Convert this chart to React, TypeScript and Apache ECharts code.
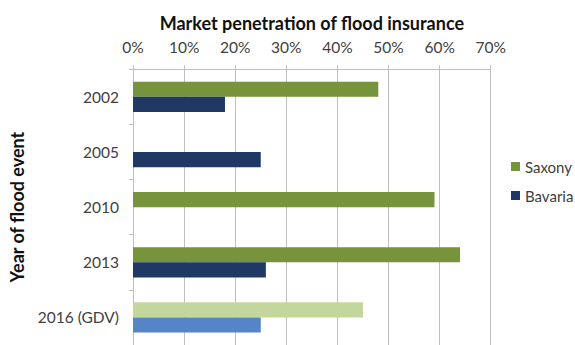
import React, { useEffect, useRef } from "react";
import * as echarts from "echarts";

const categories = ["2002", "2005", "2010", "2013", "2016 (GDV)"];
const saxony = [48, null, 59, 64, 45];
const bavaria = [18, 25, null, 26, 25];
const xTicks = [0, 10, 20, 30, 40, 50, 60, 70];

const SAX = "#77933C";
const BAV = "#1F3864";
const SAX_LIGHT = "#C3D69B";
const BAV_LIGHT = "#5585C8";
const FONT = "Lato";

export default function App() {
  const ref = useRef<HTMLDivElement>(null);
  useEffect(() => {
    const chart = echarts.init(ref.current!, null, { renderer: "svg" });
    const last = categories.length - 1;
    chart.setOption({
      animation: false,
      textStyle: { fontFamily: FONT },
      grid: { left: 129.5, top: 69.3, width: 361.2, height: 279.5, containLabel: false },
      legend: {
        orient: "vertical",
        left: 506,
        top: 154,
        icon: "rect",
        itemWidth: 9,
        itemHeight: 9,
        itemGap: 14,
        textStyle: { fontFamily: FONT, fontSize: 15, color: "#404040" },
        data: ["Saxony", "Bavaria"],
      },
      xAxis: {
        type: "value",
        position: "top",
        min: xTicks[0],
        max: xTicks[xTicks.length - 1],
        interval: 10,
        name: "Market penetration of flood insurance",
        nameLocation: "middle",
        nameGap: 37,
        nameTextStyle: { fontFamily: FONT, fontSize: 18, fontWeight: "bold", color: "#111" },
        axisLine: { show: true, lineStyle: { color: "#BFBFBF", width: 1 } },
        axisTick: { show: true, length: 4, lineStyle: { color: "#BFBFBF" } },
        axisLabel: { formatter: "{value}%", fontSize: 15.5, color: "#404040", margin: 14, fontFamily: FONT },
        splitLine: { show: true, lineStyle: { color: "#BFBFBF", width: 1 } },
      },
      yAxis: {
        type: "category",
        inverse: true,
        data: categories,
        name: "Year of flood event",
        nameLocation: "middle",
        nameGap: 107,
        nameTextStyle: { fontFamily: FONT, fontSize: 18, fontWeight: "bold", color: "#111" },
        axisLine: { show: true, lineStyle: { color: "#BFBFBF", width: 1 } },
        axisTick: { show: true, length: 4, lineStyle: { color: "#BFBFBF" } },
        axisLabel: { fontSize: 15.5, color: "#404040", margin: 14, fontFamily: FONT },
      },
      series: [
        {
          name: "Saxony",
          type: "bar",
          barGap: "0%",
          barCategoryGap: "45%",
          itemStyle: { color: SAX },
          data: saxony.map((v, i) =>
            i === last ? { value: v, itemStyle: { color: SAX_LIGHT } } : v
          ),
        },
        {
          name: "Bavaria",
          type: "bar",
          barGap: "0%",
          barCategoryGap: "45%",
          itemStyle: { color: BAV },
          data: bavaria.map((v, i) =>
            i === last ? { value: v, itemStyle: { color: BAV_LIGHT } } : v
          ),
        },
      ],
    });
    return () => chart.dispose();
  }, []);
  return (
    <div
      ref={ref}
      style={{ position: "fixed", left: 0, top: 0, width: 575, height: 345, background: "#fff" }}
    />
  );
}
